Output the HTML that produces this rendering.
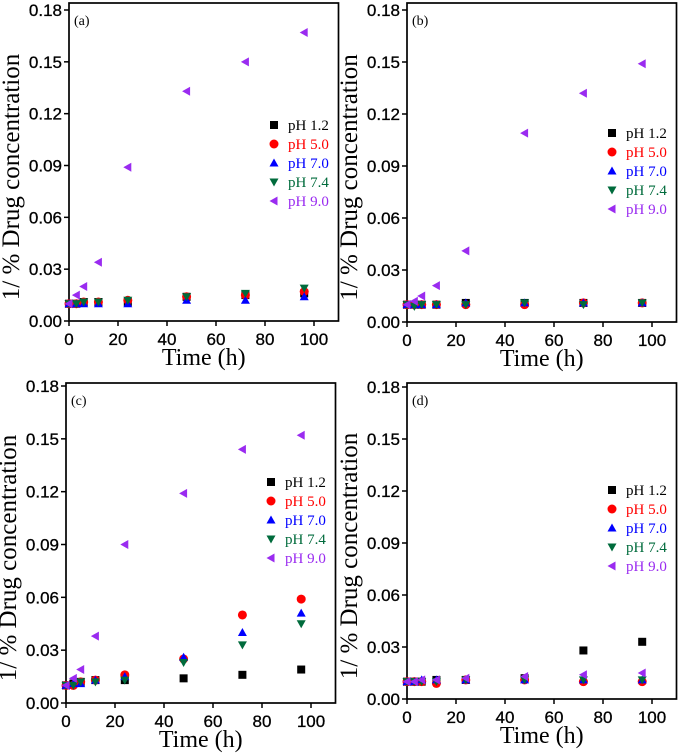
<!DOCTYPE html>
<html><head><meta charset="utf-8"><style>
body{margin:0;background:#fff}
svg{display:block}
text{font-family:"Liberation Sans",sans-serif}
.serif{font-family:"Liberation Serif",serif}
</style></head><body>
<svg id="chart" width="679" height="756" viewBox="0 0 679 756" xmlns="http://www.w3.org/2000/svg"></svg>
<script>
const times = [0, 3, 6, 12, 24, 48, 72, 96];
const seriesNames = ["pH 1.2", "pH 5.0", "pH 7.0", "pH 7.4", "pH 9.0"];
const yTicks = [0, 0.03, 0.06, 0.09, 0.12, 0.15, 0.18];
const yTickLabels = ["0.00", "0.03", "0.06", "0.09", "0.12", "0.15", "0.18"];
const xTicks = [0, 20, 40, 60, 80, 100];
const panelLabels = ["(a)", "(b)", "(c)", "(d)"];

const a_ph12 = [0.010, 0.010, 0.011, 0.011, 0.011, 0.014, 0.015, 0.016];
const a_ph50 = [0.010, 0.010, 0.011, 0.011, 0.012, 0.014, 0.015, 0.017];
const a_ph70 = [0.010, 0.010, 0.010, 0.010, 0.010, 0.012, 0.012, 0.014];
const a_ph74 = [0.010, 0.010, 0.011, 0.011, 0.012, 0.014, 0.016, 0.019];
const a_ph90 = [0.010, 0.015, 0.020, 0.034, 0.089, 0.133, 0.150, 0.167];

const b_ph12 = [0.010, 0.010, 0.010, 0.010, 0.011, 0.011, 0.011, 0.011];
const b_ph50 = [0.010, 0.010, 0.010, 0.010, 0.010, 0.010, 0.011, 0.011];
const b_ph70 = [0.010, 0.010, 0.010, 0.010, 0.011, 0.011, 0.011, 0.011];
const b_ph74 = [0.010, 0.009, 0.010, 0.010, 0.010, 0.011, 0.010, 0.011];
const b_ph90 = [0.010, 0.012, 0.015, 0.021, 0.041, 0.109, 0.132, 0.149];

const c_ph12 = [0.010, 0.011, 0.012, 0.013, 0.013, 0.014, 0.016, 0.019];
const c_ph50 = [0.010, 0.010, 0.012, 0.013, 0.016, 0.025, 0.050, 0.059];
const c_ph70 = [0.010, 0.011, 0.011, 0.013, 0.015, 0.026, 0.040, 0.051];
const c_ph74 = [0.010, 0.010, 0.012, 0.012, 0.013, 0.023, 0.033, 0.045];
const c_ph90 = [0.010, 0.014, 0.019, 0.038, 0.090, 0.119, 0.144, 0.152];

const d_ph12 = [0.010, 0.010, 0.010, 0.011, 0.011, 0.012, 0.028, 0.033];
const d_ph50 = [0.010, 0.010, 0.010, 0.009, 0.011, 0.011, 0.010, 0.010];
const d_ph70 = [0.010, 0.010, 0.011, 0.011, 0.011, 0.011, 0.011, 0.011];
const d_ph74 = [0.010, 0.010, 0.010, 0.010, 0.011, 0.011, 0.011, 0.011];
const d_ph90 = [0.010, 0.010, 0.011, 0.011, 0.012, 0.013, 0.014, 0.015];

const panelData = [
  [a_ph12, a_ph50, a_ph70, a_ph74, a_ph90],
  [b_ph12, b_ph50, b_ph70, b_ph74, b_ph90],
  [c_ph12, c_ph50, c_ph70, c_ph74, c_ph90],
  [d_ph12, d_ph50, d_ph70, d_ph74, d_ph90]
];

const colors = ["#000000", "#ff0000", "#0000ff", "#006b3c", "#9a2bf0"];
const shapes = ["square", "circle", "up", "down", "left"];
const layouts = [
  {L: 69, y0: 321, y18: 10, top: 3, leg: 125},
  {L: 407, y0: 322, y18: 10, top: 3, leg: 133},
  {L: 66, y0: 703, y18: 386, top: 383, leg: 482},
  {L: 407, y0: 699, y18: 387, top: 383, leg: 490}
];
const NS = "http://www.w3.org/2000/svg";
const svg = document.getElementById("chart");
function mk(tag, attrs, parent) {
  const e = document.createElementNS(NS, tag);
  for (const k in attrs) e.setAttribute(k, attrs[k]);
  (parent || svg).appendChild(e);
  return e;
}
function marker(g, shape, cx, cy, color) {
  const s = 4.5;
  let e;
  if (shape === "square") e = mk("rect", {x: cx - 4, y: cy - 4, width: 8, height: 8, fill: color}, g);
  else if (shape === "circle") e = mk("circle", {cx: cx, cy: cy, r: 4.5, fill: color}, g);
  else if (shape === "up") e = mk("polygon", {points: `${cx},${cy - s} ${cx - s},${cy + s - 1} ${cx + s},${cy + s - 1}`, fill: color}, g);
  else if (shape === "down") e = mk("polygon", {points: `${cx},${cy + s} ${cx - s},${cy - s + 1} ${cx + s},${cy - s + 1}`, fill: color}, g);
  else e = mk("polygon", {points: `${cx - s},${cy} ${cx + s - 1},${cy - s} ${cx + s - 1},${cy + s}`, fill: color}, g);
  return e;
}
layouts.forEach((lay, p) => {
  const xs = 2.45;
  const X = v => lay.L + v * xs;
  const Y = v => lay.y0 - (v / 0.18) * (lay.y0 - lay.y18);
  const R = X(110);
  const g = mk("g", {});
  
  
  const box = mk("rect", {x: lay.L, y: lay.top, width: R - lay.L, height: lay.y0 - lay.top, fill: "none", stroke: "#000", "stroke-width": 1.7}, g);
  
  
  yTicks.forEach((t, i) => {
    const y = Y(t);
    mk("line", {x1: lay.L - 5, x2: lay.L, y1: y, y2: y, stroke: "#000", "stroke-width": 1.5}, g);
    const tx = mk("text", {x: lay.L - 7, y: y + 6, "text-anchor": "end", "font-size": 17, stroke: "#000", "stroke-width": 0.3}, g);
    tx.textContent = yTickLabels[i];
    
    
  });
  xTicks.forEach(t => {
    const x = X(t);
    mk("line", {x1: x, x2: x, y1: lay.y0, y2: lay.y0 + 5, stroke: "#000", "stroke-width": 1.5}, g);
    const tx = mk("text", {x: x, y: lay.y0 + 24, "text-anchor": "middle", "font-size": 17, stroke: "#000", "stroke-width": 0.3}, g);
    tx.textContent = t;
    
    
  });
  const xt = mk("text", {x: X(55), y: lay.y0 + 44, "text-anchor": "middle", "font-size": 24, class: "serif"}, g);
  xt.textContent = "Time (h)";
  
  
  const cy = (lay.y0 + lay.top) / 2 + 15;
  const yt = mk("text", {x: lay.L - 50, y: cy, "text-anchor": "middle", "font-size": 25, class: "serif", transform: `rotate(-90 ${lay.L - 50} ${cy})`}, g);
  yt.textContent = "1/ % Drug concentration";
  
  
  const pl = mk("text", {x: lay.L + 5, y: lay.top + 22, "font-size": 14, class: "serif"}, g);
  pl.textContent = panelLabels[p];
  
  
  panelData[p].forEach((vals, s) => {
    vals.forEach((v, i) => {
      const m = marker(g, shapes[s], X(times[i]), Y(v), colors[s]);
      
      
    });
  });
  seriesNames.forEach((n, s) => {
    const ly = lay.leg + s * 19;
    const lm = marker(g, shapes[s], lay.L + 205, ly, colors[s]);
    
    
    const lt = mk("text", {x: lay.L + 219, y: ly + 5, "font-size": 15, class: "serif", fill: colors[s]}, g);
    lt.textContent = n;
    
    
  });
});
</script>
</body></html>
